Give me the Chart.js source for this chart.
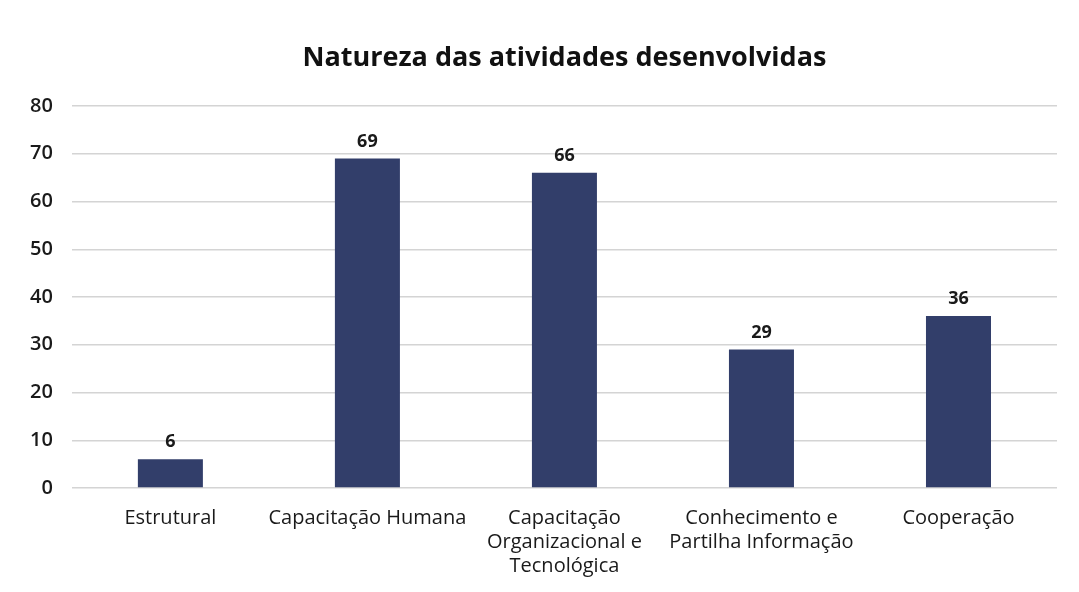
<!DOCTYPE html>
<html>
<head>
<meta charset="utf-8">
<script src="https://cdn.jsdelivr.net/npm/chart.js@4.4.1/dist/chart.umd.min.js"></script>
<style>
  html, body { margin: 0; padding: 0; background: #fff; }
  #wrap { width: 1079px; height: 592px; position: relative; }
</style>
</head>
<body>
<div id="wrap"><canvas id="atividades-chart"></canvas></div>
<script>
const categorias = [
    'Estrutural',
    'Capacitação Humana',
    ['Capacitação', 'Organizacional e', 'Tecnológica'],
    ['Conhecimento e', 'Partilha Informação'],
    'Cooperação'
];
const atividades = [6, 69, 66, 29, 36];
const yTicks = [0, 10, 20, 30, 40, 50, 60, 70, 80];
const titulo = 'Natureza das atividades desenvolvidas';

// draws the number above each bar
const valorLabels = {
    id: 'valorLabels',
    afterDatasetsDraw(chart) {
        const ctx = chart.ctx;
        const meta = chart.getDatasetMeta(0);
        ctx.save();
        ctx.font = 'bold 18px "Open Sans", sans-serif';
        ctx.fillStyle = '#1a1a1a';
        ctx.textAlign = 'center';
        ctx.textBaseline = 'bottom';
        meta.data.forEach((bar, i) => {
            ctx.fillText(atividades[i], bar.x, bar.y - 8);
        });
        ctx.restore();
    }
};

// title sits centred over the plot area, not the whole canvas
const tituloPlugin = {
    id: 'tituloPlugin',
    afterDraw(chart) {
        const ctx = chart.ctx;
        const area = chart.chartArea;
        ctx.save();
        ctx.font = 'bold 27px "Open Sans", sans-serif';
        ctx.fillStyle = '#111';
        ctx.textAlign = 'center';
        ctx.textBaseline = 'middle';
        ctx.fillText(titulo, (area.left + area.right) / 2, 58);
        ctx.restore();
    }
};

const ctx = document.getElementById('atividades-chart').getContext('2d');
const atividadesChart = new Chart(ctx, {
    type: 'bar',
    data: {
        labels: categorias,
        datasets: [{
            label: 'Atividades',
            data: atividades,
            backgroundColor: '#323e6a',
            borderWidth: 0,
            categoryPercentage: 1,
            barPercentage: 0.33
        }]
    },
    options: {
        responsive: true,
        maintainAspectRatio: false,
        animation: false,
        layout: { padding: { left: 11, right: 22, top: 106, bottom: 4 } },
        scales: {
            y: {
                min: 0,
                max: 80,
                afterBuildTicks: axis => { axis.ticks = yTicks.map(v => ({ value: v })); },
                border: { display: false },
                grid: { color: '#d4d4d4', lineWidth: 1.5, drawTicks: false },
                ticks: {
                    color: '#1a1a1a',
                    padding: 19,
                    font: { size: 20, weight: '600', family: '"Open Sans", sans-serif' }
                }
            },
            x: {
                border: { display: false },
                grid: { display: false },
                ticks: {
                    color: '#1a1a1a',
                    maxRotation: 0,
                    autoSkip: false,
                    padding: 10,
                    font: { size: 20, weight: '500', family: '"Open Sans", sans-serif', lineHeight: 1.2 }
                }
            }
        },
        plugins: {
            legend: { display: false },
            tooltip: { enabled: false },
            title: { display: false }
        }
    },
    plugins: [valorLabels, tituloPlugin]
});
</script>
</body>
</html>
